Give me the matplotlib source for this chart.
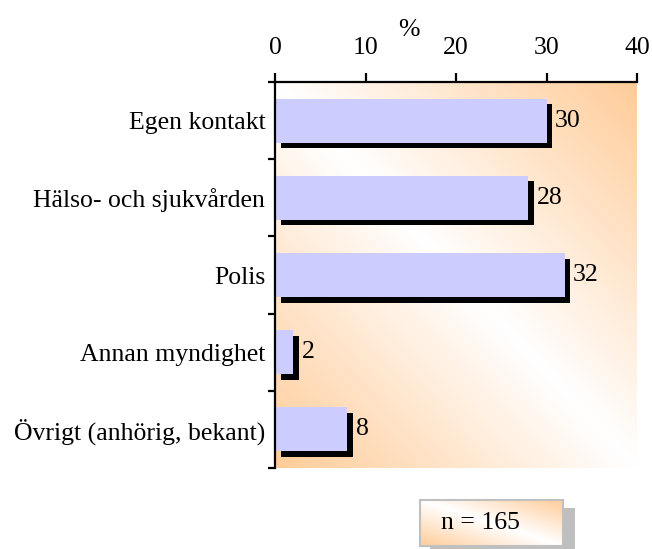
import numpy as np
import matplotlib
matplotlib.use("Agg")
import matplotlib.pyplot as plt
import matplotlib.patheffects as pe
from matplotlib.colors import LinearSegmentedColormap

categories = ["Egen kontakt", "Hälso- och sjukvården", "Polis",
              "Annan myndighet", "Övrigt (anhörig, bekant)"]
values = [30, 28, 32, 2, 8]
x_ticks = [0, 10, 20, 30, 40]
n_text = "n = 165"

plt.rcParams["font.family"] = ["Liberation Serif", "DejaVu Serif"]
FS = 18.5

fig = plt.figure(figsize=(6.52, 5.49), dpi=100)
ax = fig.add_axes([0.4218, 0.1475, 0.5552, 0.7031])

# diagonal orange/white background
cmap = LinearSegmentedColormap.from_list("bg", ["#FFFFFF", "#FFCC99"])
gx, gy = np.meshgrid(np.linspace(0, 1, 200), np.linspace(0, 1, 200))
grad = np.abs(gx - gy)
ax.imshow(grad, cmap=cmap, extent=[0, 1, 0, 1], transform=ax.transAxes,
          aspect="auto", zorder=0, vmin=0, vmax=1, origin="upper")

y = np.arange(len(categories))
bars = ax.barh(y, values, height=0.57, color="#CCCCFF", zorder=2)
for b in bars:
    b.set_path_effects([pe.SimplePatchShadow(offset=(4, -4), shadow_rgbFace="black", alpha=1.0),
                        pe.Normal()])
ax.bar_label(bars, labels=[str(v) for v in values], padding=6, fontsize=FS)

ax.set_xlim(0, 40)
ax.set_ylim(len(categories) - 0.5, -0.5)
ax.set_xticks(x_ticks)
ax.xaxis.tick_top()
ax.tick_params(axis="x", direction="out", length=6.5, width=1.6, labelsize=FS, pad=10)
ax.set_yticks(y)
ax.set_yticklabels(categories, fontsize=FS)
ax.set_yticks(np.arange(-0.5, len(categories), 1), minor=True)
ax.tick_params(axis="y", which="major", length=0, pad=7)
ax.tick_params(axis="y", which="minor", direction="out", length=5, width=1.6)

ax.set_xlabel("%", fontsize=FS)
ax.xaxis.set_label_position("top")
ax.xaxis.set_label_coords(0.37, 1.12)

for s in ["right", "bottom"]:
    ax.spines[s].set_visible(False)
for s in ["top", "left"]:
    ax.spines[s].set_linewidth(1.6)

# n box with shadow
sh = fig.add_axes([430 / 652, 0.0, 145 / 652, 41 / 549])
sh.set_facecolor("#BFBFBF")
sh.set_xticks([])
sh.set_yticks([])
for s in sh.spines.values():
    s.set_visible(False)

nb = fig.add_axes([420 / 652, 1 - 546 / 549, 143 / 652, 46 / 549])
nb.imshow(grad, cmap=cmap, extent=[0, 1, 0, 1], aspect="auto", vmin=0, vmax=1, origin="upper")
nb.set_xlim(0, 1)
nb.set_ylim(0, 1)
nb.set_xticks([])
nb.set_yticks([])
for s in nb.spines.values():
    s.set_color("#C0C0C0")
    s.set_linewidth(1.5)
nb.text(0.42, 0.5, n_text, fontsize=FS, ha="center", va="center")

fig.savefig("out.png", dpi=100)
